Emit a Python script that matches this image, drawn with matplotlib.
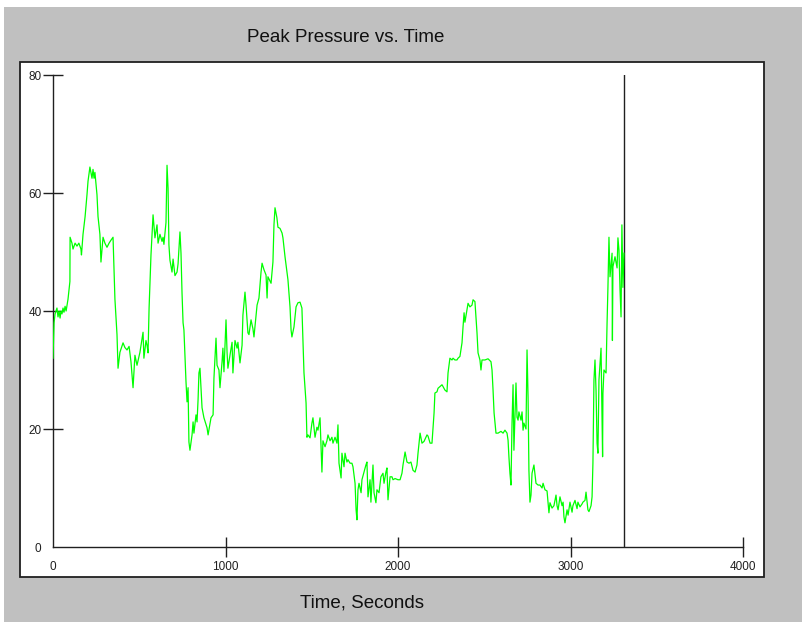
import matplotlib
matplotlib.use("Agg")
import matplotlib.pyplot as plt
from matplotlib.patches import Rectangle

# Peak pressure trace (time in seconds, pressure)
time_s = [
    0, 6, 12, 23, 29, 35, 41, 46, 52, 58, 64, 70, 76, 87, 98, 99, 110, 116, 128, 139,
    150, 162, 165, 174, 186, 197, 203, 214, 226, 232, 238, 243, 255, 261, 272, 278, 290, 301, 313, 325,
    336, 348, 359, 371, 377, 388, 406, 417, 429, 441, 452, 464, 475, 487, 504, 522, 527, 539, 545, 551,
    557, 568, 580, 591, 603, 609, 620, 632, 638, 643, 655, 661, 667, 672, 678, 690, 696, 707, 719, 725,
    736, 742, 748, 754, 759, 771, 777, 783, 788, 794, 806, 812, 817, 829, 835, 841, 846, 852, 864, 875,
    893, 899, 916, 928, 933, 945, 951, 962, 968, 980, 985, 991, 1003, 1009, 1014, 1026, 1038, 1043, 1055, 1067,
    1072, 1084, 1096, 1101, 1113, 1119, 1130, 1136, 1148, 1159, 1165, 1177, 1183, 1194, 1206, 1212, 1223, 1235, 1241, 1246,
    1264, 1275, 1281, 1287, 1298, 1304, 1316, 1328, 1333, 1345, 1362, 1374, 1380, 1385, 1397, 1409, 1420, 1432, 1443, 1449,
    1455, 1467, 1472, 1478, 1490, 1501, 1507, 1519, 1530, 1536, 1548, 1559, 1565, 1577, 1588, 1594, 1606, 1617, 1623, 1635,
    1646, 1652, 1658, 1670, 1675, 1687, 1693, 1704, 1710, 1722, 1733, 1739, 1751, 1757, 1762, 1768, 1774, 1786, 1791, 1803,
    1814, 1820, 1826, 1838, 1843, 1855, 1861, 1872, 1878, 1890, 1901, 1913, 1919, 1930, 1936, 1942, 1954, 1965, 1971, 1983,
    2000, 2012, 2023, 2029, 2041, 2052, 2064, 2075, 2087, 2099, 2110, 2116, 2128, 2139, 2151, 2168, 2174, 2186, 2197, 2209,
    2214, 2226, 2232, 2255, 2261, 2272, 2284, 2290, 2301, 2313, 2319, 2330, 2342, 2348, 2359, 2371, 2377, 2383, 2388, 2400,
    2406, 2417, 2429, 2435, 2446, 2458, 2464, 2475, 2481, 2487, 2504, 2522, 2539, 2545, 2551, 2557, 2568, 2580, 2597, 2609,
    2620, 2632, 2638, 2643, 2649, 2655, 2661, 2667, 2672, 2684, 2690, 2696, 2701, 2713, 2719, 2725, 2730, 2742, 2748, 2754,
    2759, 2765, 2771, 2777, 2788, 2800, 2812, 2823, 2835, 2841, 2852, 2864, 2870, 2875, 2881, 2893, 2904, 2916, 2922, 2928,
    2939, 2951, 2957, 2962, 2968, 2980, 2986, 2997, 3009, 3014, 3026, 3038, 3043, 3055, 3067, 3072, 3084, 3090, 3101, 3107,
    3119, 3125, 3130, 3136, 3142, 3148, 3154, 3159, 3165, 3177, 3183, 3186, 3188, 3194, 3206, 3212, 3217, 3223, 3229, 3241,
    3243, 3246, 3258, 3270, 3275, 3281, 3287, 3293, 3298, 3304, 3310,
]
pressure = [
    32, 38, 39.5, 40.5, 39, 40, 38.8, 40, 39.5, 40.5, 39.8, 40.8, 40, 42, 45, 52.5, 51.5, 50.5, 51.5, 51,
    51.5, 50.5, 49.5, 53, 56, 59.7, 62, 64.4, 62.5, 64, 62.5, 63.5, 59.7, 56, 53, 48.3, 52.5, 51.5, 50.8, 51.5,
    52, 52.5, 42, 36, 30.3, 33, 34.6, 33.8, 33.4, 34, 31.4, 27, 32.5, 30.8, 33, 36.4, 32, 35, 34.2, 32.9,
    40.5, 49.5, 56.3, 52.4, 54.6, 51.5, 53, 51.8, 52.5, 51.3, 55, 64.7, 60.8, 51.2, 48.6, 46.6, 48.8, 46, 46.6, 48,
    53.4, 49.8, 43, 38, 36.8, 28, 24.6, 27, 17.8, 16.4, 19, 21.2, 19.3, 22.4, 21.2, 25, 29.5, 30.3, 23.6, 21.9,
    20.2, 19, 21.9, 22.4, 28.6, 35.4, 30.8, 30, 27, 31.4, 33.7, 29.7, 38.5, 33, 30.3, 32.5, 34.7, 29.5, 35, 33.7,
    34.7, 31.2, 34.2, 39.3, 43.2, 41, 36.3, 36, 38.5, 37, 35.6, 39.3, 41, 42.2, 46.6, 48.1, 47, 46.1, 42.2, 45.8,
    44.7, 48.3, 54.6, 57.5, 55.8, 54.2, 54, 53.2, 52.4, 49.2, 45.3, 40.7, 36.8, 35.6, 37.3, 40.7, 41.4, 41.5, 40.5, 35,
    29.5, 24.4, 18.6, 19, 18.5, 21, 21.9, 18.6, 20.3, 19.8, 21.9, 12.7, 18, 17, 18, 19, 18, 18.6, 17.6, 18.6,
    17.6, 20.7, 14.2, 11.7, 15.9, 13.6, 15.9, 14.4, 14.8, 14.2, 14.2, 13.6, 10.8, 6.3, 4.6, 9.7, 10.8, 9.2, 11.4, 12.7,
    13.9, 14.4, 8.5, 11.4, 7.6, 13.9, 9.2, 7.5, 9.7, 9.2, 11.9, 12.5, 10.8, 12.7, 13.4, 8, 11.9, 11.9, 11.4, 11.6,
    11.4, 11.4, 12.5, 13.9, 16.1, 14.4, 14.2, 14.4, 13, 12.7, 13.9, 15.9, 19.3, 17.6, 17.9, 19, 18.8, 17.6, 17.6, 22.7,
    26.1, 26.3, 26.9, 27.5, 27.2, 26.6, 26.3, 29.5, 32, 31.7, 32, 31.7, 31.7, 32, 32.3, 34.6, 37.3, 39.7, 38.1, 40.2,
    41.3, 40.7, 41, 41.9, 41.6, 36.3, 32.9, 31.7, 30, 31.7, 31.7, 31.9, 31.4, 30, 26.6, 22.7, 19.3, 19.3, 19.6, 19.3,
    19.8, 19.3, 18.1, 15.3, 12.5, 10.5, 21, 27.5, 16.4, 27.8, 22, 21.5, 22.9, 21.5, 22.9, 19.8, 21, 20, 33.4, 25.4,
    13, 7.6, 8.8, 12.5, 13.9, 10.8, 10.5, 10.5, 10, 10.8, 9.7, 9.5, 7.5, 5.8, 7.5, 6.6, 7, 8.8, 7, 6.3,
    8.5, 7, 7.6, 5.1, 4.1, 6.3, 5.4, 7.6, 5.9, 7, 7.9, 6.5, 7.6, 6.8, 7.3, 7.6, 7.9, 9.3, 6.3, 6,
    7, 8.5, 14.2, 28.3, 31.7, 26.6, 17.6, 15.9, 28.3, 33.7, 21.5, 15.3, 26, 30, 29.5, 38, 44, 52.5, 45.8, 49.8,
    35, 47.5, 49.2, 47.3, 52.4, 50.3, 43.6, 39, 54.6, 44, 49.8,
]

x_ticks = [0, 1000, 2000, 3000, 4000]
y_ticks = [0, 20, 40, 60, 80]
marker_time = 3310

W, H = 803, 622
fig = plt.figure(figsize=(W / 100, H / 100), dpi=100, facecolor="white")

# grey window background and white chart panel
fig.patches.append(Rectangle((4 / W, 0), (W - 4) / W, (H - 7) / H,
                             transform=fig.transFigure, facecolor="#c0c0c0",
                             edgecolor="none", zorder=-3))
fig.patches.append(Rectangle((20 / W, (H - 577) / H), 744 / W, 515 / H,
                             transform=fig.transFigure, facecolor="white",
                             edgecolor="#202020", linewidth=1.3, zorder=-2))

ax = fig.add_axes([53 / W, (H - 547) / H, 690 / W, 472 / H])
ax.set_facecolor("none")
ax.plot(time_s, pressure, color="#00ff00", linewidth=0.9, zorder=3)
ax.plot([marker_time, marker_time], [0, 80], color="#202020", linewidth=1.0, zorder=2)

ax.set_xlim(0, 4000)
ax.set_ylim(0, 80)
ax.set_xticks(x_ticks)
ax.set_yticks(y_ticks)
ax.set_xticklabels([str(v) for v in x_ticks])
ax.set_yticklabels([str(v) for v in y_ticks])

for side in ("top", "right"):
    ax.spines[side].set_visible(False)
for side in ("left", "bottom"):
    ax.spines[side].set_color("#202020")
    ax.spines[side].set_linewidth(1.0)

ax.tick_params(axis="both", direction="inout", length=14.5, width=1.0,
               color="#202020", labelsize=8.5, labelcolor="#202020")
ax.tick_params(axis="y", pad=1.0)
ax.tick_params(axis="x", pad=2.5)
ax.xaxis.get_major_ticks()[0].tick1line.set_visible(False)
ax.yaxis.get_major_ticks()[0].tick1line.set_visible(False)
for lab in ax.get_xticklabels() + ax.get_yticklabels():
    lab.set_family(["Liberation Sans", "DejaVu Sans"])

fig.text(346 / W, 1 - 38 / H, "Peak Pressure vs. Time", ha="center", va="center",
         fontsize=13.5, family=["Liberation Sans", "DejaVu Sans"], color="#101010")
fig.text(362 / W, 1 - 603 / H, "Time, Seconds", ha="center", va="center",
         fontsize=13.5, family=["Liberation Sans", "DejaVu Sans"], color="#101010")

fig.savefig("out.png", dpi=100, facecolor=fig.get_facecolor())
